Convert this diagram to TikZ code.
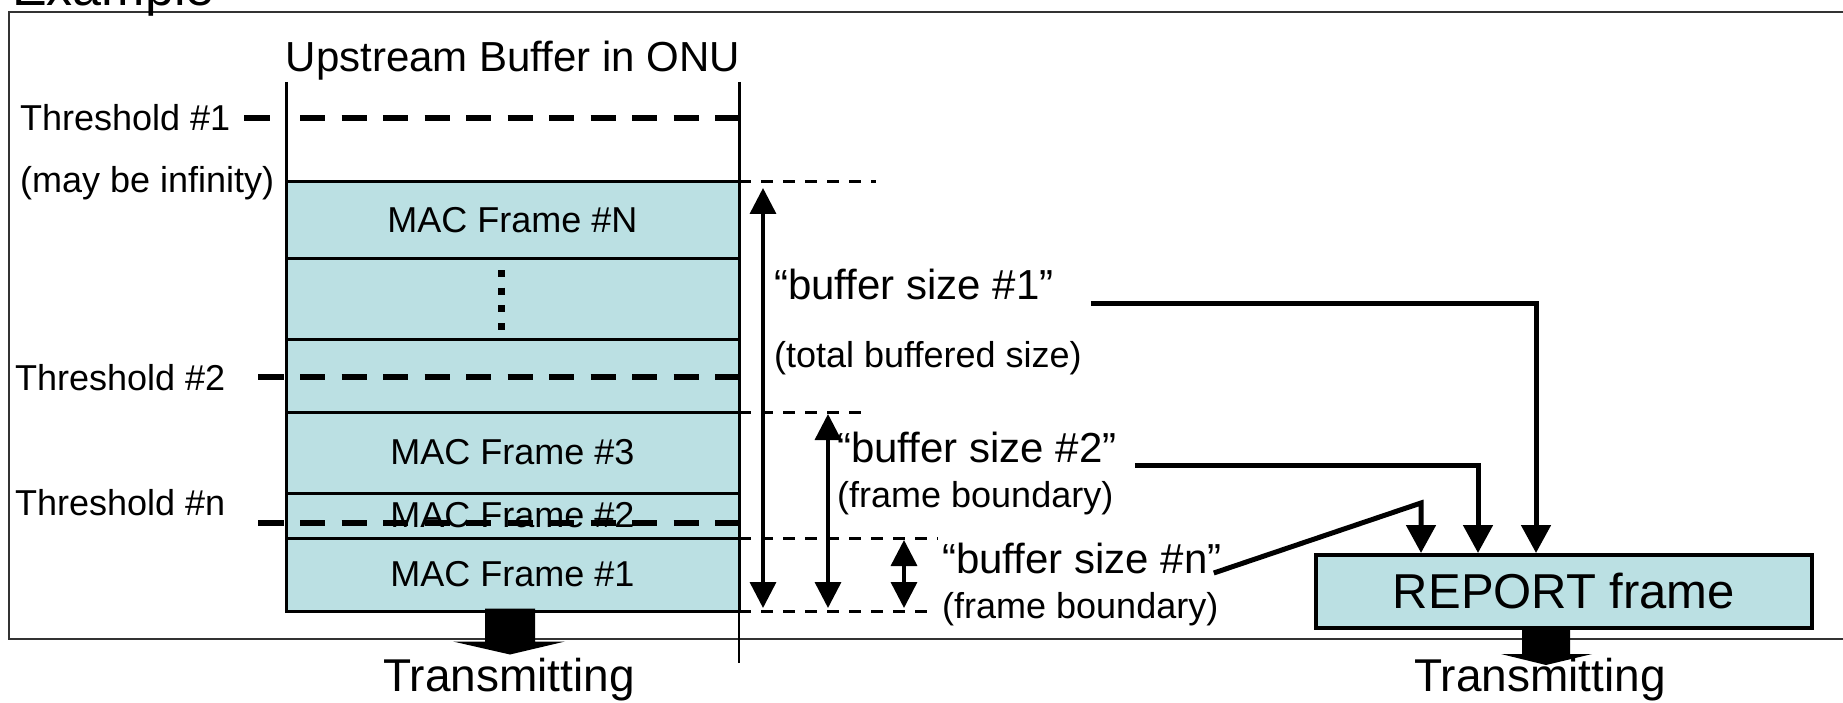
\documentclass[tikz,border=0pt]{standalone}
\usepackage{fontspec}
\setmainfont{Liberation Sans}
\usetikzlibrary{arrows.meta}
\definecolor{framefill}{RGB}{187,224,227}
\newcommand{\txtsmall}{\fontsize{36}{40}\selectfont}
\newcommand{\txtmid}{\fontsize{42}{46}\selectfont}
\newcommand{\txtbig}{\fontsize{46}{50}\selectfont}
\begin{document}
\begin{tikzpicture}[x=1pt, y=-1pt,
      macframe/.style ={draw, line width=3pt, fill=framefill, minimum width=453pt, inner sep=0pt, font=\txtsmall},
      label/.style ={inner sep=0pt, font=\txtsmall, anchor=base west},
      bslabel/.style ={inner sep=0pt, font=\txtmid, anchor=base west},
      thresh/.style ={line width=6pt, dash pattern=on 25pt off 16.5pt},
      guide/.style ={line width=3pt, dash pattern=on 12pt off 10pt},
      dimarrow/.style ={line width=3.5pt, {Triangle[length=26pt,width=26pt]}-{Triangle[length=26pt,width=26pt]}},
      link/.style ={line width=5pt, -{Triangle[length=28pt,width=29pt]}}]

   \useasboundingbox (0,0) rectangle (1843,703);

   % outer frame
   \draw[line width=2pt, black!80] (9,12) rectangle (1850,639);
   \node[inner sep=0pt, anchor=base west, font=\fontsize{52}{56}\selectfont] (example) at (12,6) {Example};

   % buffer
   \node[inner sep=0pt, anchor=base, font=\txtmid] (title) at (513,72) {Upstream Buffer in ONU};
   \node[macframe, minimum height=77pt] (fN) at (512.5,220.5) {MAC Frame \#N};
   \node[macframe, minimum height=80pt] (fdots) at (512.5,299) {};
   \node[macframe, minimum height=73pt] (fmid) at (512.5,375.5) {};
   \node[macframe, minimum height=81pt] (f3) at (512.5,452.5) {MAC Frame \#3};
   \node[macframe, minimum height=45pt] (f2) at (512.5,515.5) {MAC Frame \#2};
   \node[macframe, minimum height=73pt] (f1) at (512.5,574.5) {MAC Frame \#1};

   \draw[line width=3pt] (286,82) -- (286,611);
   \draw[line width=3pt] (739,82) -- (739,611);
   \draw[line width=1.5pt] (739,611) -- (739,663);
   \draw[line width=7pt, dash pattern=on 7pt off 10.7pt] (fdots.center) ++(-11,-29) -- ++(0,61);

   % thresholds
   \foreach \y/\xs in {118/244, 377/258, 523/258}
   {
      \draw[line width=6pt] (\xs,\y) -- (\xs+26,\y);
      \draw[thresh] (300,\y) -- (739,\y);
   }
   \node[label] (th1) at (20,131) {Threshold \#1};
   \node[label] (inf) at (20,193) {(may be infinity)};
   \node[label] (th2) at (15,390) {Threshold \#2};
   \node[label] (thn) at (15,515) {Threshold \#n};

   % sizes
   \draw[guide] (739,182) -- (876,182);
   \draw[guide] (739,412) -- (864,412);
   \draw[guide] (739,538) -- (938,538);
   \draw[guide] (739,611) -- (936,611);
   \draw[dimarrow] (763,188) -- (763,608);
   \draw[dimarrow] (828,414) -- (828,608);
   \draw[dimarrow] (904,540) -- (904,608);

   \node[bslabel] (bs1) at (774,299) {“buffer size \#1”};
   \node[label] (tbs) at (774,367) {(total buffered size)};
   \node[bslabel] (bs2) at (837,462) {“buffer size \#2”};
   \node[label] (fb2) at (837,507) {(frame boundary)};
   \node[bslabel] (bsn) at (942,573) {“buffer size \#n”};
   \node[label] (fbn) at (942,618) {(frame boundary)};

   % report
   \node[draw, line width=4pt, fill=framefill, minimum width=496pt, minimum height=73pt, inner sep=0pt,
         font=\fontsize{49}{52}\selectfont] (report) at (1564,591.5) {REPORT frame};

   \draw[link] ([shift={(37,4)}]bs1.base east) -| ([xshift=-28pt]report.north);
   \draw[link] ([shift={(18,3)}]bs2.base east) -| ([xshift=-86pt]report.north);
   \draw[link] ([xshift=-8pt]bsn.base east) -- ([shift={(-143,-50)}]report.north) -- ([xshift=-143pt]report.north);

   % transmitting
   \fill ([shift={(-27.5,-4)}]f1.south) -- ++(50,0) -- ++(0,33) -- ++(30,0) -- ++(-55,13)
         -- ++(-57,-13) -- ++(32,0) -- cycle;
   \fill ([shift={(-42,-3)}]report.south) -- ++(48,0) -- ++(0,27) -- ++(22,0) -- ++(-46,11)
         -- ++(-45,-11) -- ++(21,0) -- cycle;
   \node[inner sep=0pt, anchor=base, font=\txtbig] (tx1) at (509,691) {Transmitting};
   \node[inner sep=0pt, anchor=base, font=\txtbig] (tx2) at (1540,691) {Transmitting};

 \end{tikzpicture}
\end{document}
